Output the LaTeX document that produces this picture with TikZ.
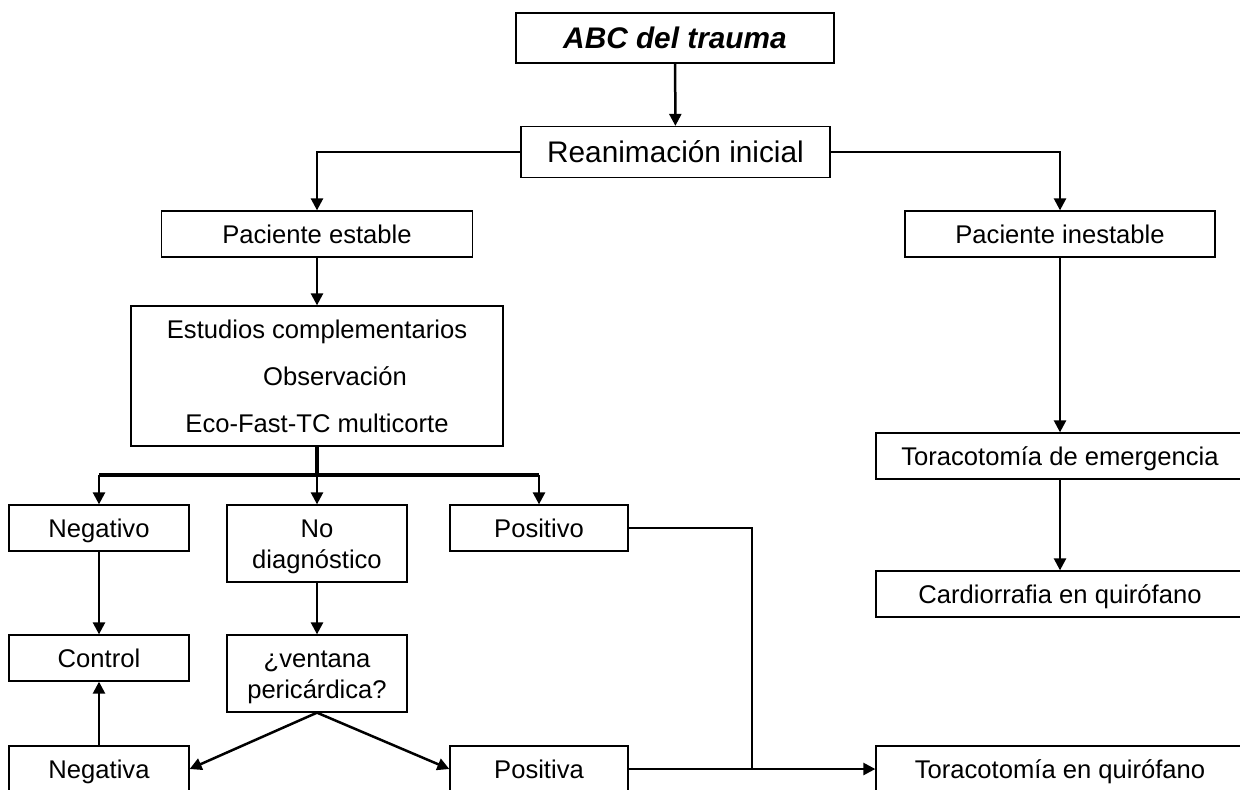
\documentclass[tikz,border=0pt]{standalone}
\usepackage{fontspec}
\setmainfont{Liberation Sans}
\usetikzlibrary{arrows.meta, positioning}

\begin{document}
\begin{tikzpicture}[x=0.5pt, y=-0.5pt,
  box/.style={draw, line width=0.65pt, inner sep=0pt, align=center,
    text height=9.16pt, text depth=0pt,
    font=\fontsize{12.8}{15.5}\selectfont},
  twoline/.style={box, text height=24.66pt},
  bigbox/.style={box, text height=10.67pt, font=\fontsize{14.9}{18}\selectfont},
  arr/.style={line width=1.25pt, -{Triangle[length=6pt, width=6pt]}},
  conn/.style={line width=1.25pt},
  trunk/.style={line width=1.9pt}]
  \path[use as bounding box, clip] (0,0) rectangle (1240,789);
  \node[bigbox, minimum width=159pt, minimum height=25pt,
        font=\fontsize{14.9}{18}\selectfont\bfseries\itshape] (abc) at (675,38) {ABC del trauma};
  \node[bigbox, minimum width=154.5pt, minimum height=25.5pt] (rean) at (675.5,152) {Reanimación inicial};
  \node[box, minimum width=155.5pt, minimum height=23pt] (estable)   at (317,234)  {Paciente estable};
  \node[box, minimum width=155pt,   minimum height=23pt] (inestable) at (1060,234) {Paciente inestable};
  \node[box, minimum width=186pt,   minimum height=70pt, text height=56.16pt,
        font=\fontsize{12.8}{23.5}\selectfont] (estudios) at (317,376)
        {Estudios complementarios\\\hspace*{18pt}Observación\\Eco-Fast-TC multicorte};
  \node[box, minimum width=184pt, minimum height=23pt] (emerg)  at (1060,456) {Toracotomía de emergencia};
  \node[box, minimum width=184pt, minimum height=23pt] (cardio) at (1060,594) {Cardiorrafia en quirófano};
  \node[box,     minimum width=90pt, minimum height=23pt]   (negativo) at (99,528)    {Negativo};
  \node[twoline, minimum width=90pt, minimum height=38.5pt] (nodiag)   at (317,543.5) {No\\diagnóstico};
  \node[box,     minimum width=89pt, minimum height=23pt]   (positivo) at (539,528)   {Positivo};
  \node[box,     minimum width=90pt, minimum height=23pt]   (control)  at (99,658)    {Control};
  \node[twoline, minimum width=90pt, minimum height=38.5pt] (ventana)  at (317,673.5) {¿ventana\\pericárdica?};
  \node[box,     minimum width=90pt, minimum height=23pt]   (negativa) at (99,769)    {Negativa};
  \node[box,     minimum width=89pt, minimum height=23pt]   (positiva) at (539,769)   {Positiva};
  \node[box, minimum width=184pt, minimum height=23pt]  (toraco)   at (1060,769)  {Toracotomía en quirófano};

  \coordinate (split)  at (317,475);
  \coordinate (splitL) at (99,475);
  \coordinate (splitR) at (539,475);
  \coordinate (join)   at (752,769);

  % top
  \draw[arr] (abc) -- (rean);
  \draw[arr] (rean.west) -| (estable.north);
  \draw[arr] (rean.east) -| (inestable.north);
  % unstable patient
  \draw[arr] (inestable) -- (emerg);
  \draw[arr] (emerg) -- (cardio);
  % stable patient
  \draw[arr] (estable) -- (estudios);
  \draw[trunk] (estudios.south) -- (split);
  \draw[trunk] (splitL) -- (splitR);
  \draw[arr] (splitL) -- (negativo.north);
  \draw[arr] (split) -- (nodiag.north);
  \draw[arr] (splitR) -- (positivo.north);
  \draw[arr] (negativo) -- (control);
  \draw[arr] (nodiag) -- (ventana);
  \draw[arr] (negativa) -- (control);
  % pericardial window
  \draw[arr] (ventana.south) -- (negativa.east);
  \draw[arr] (ventana.south) -- (positiva.west);
  % to the operating room
  \draw[conn] (positivo.east) -| (join);
  \draw[arr] (positiva.east) -- (toraco.west);
\end{tikzpicture}
\end{document}
